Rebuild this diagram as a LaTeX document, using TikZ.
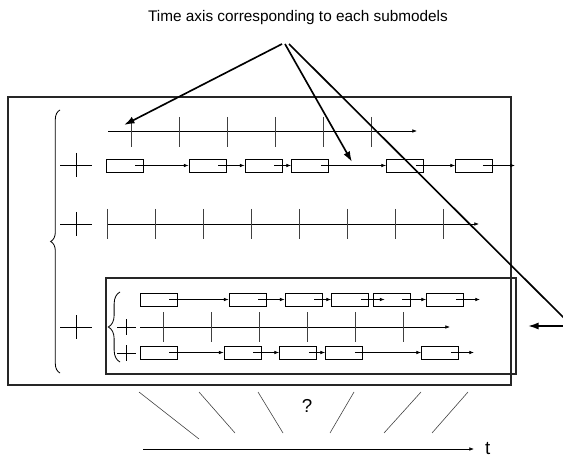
\documentclass[tikz,border=0pt]{standalone}
\usepackage{fontspec}
\setmainfont{Liberation Sans}
\usetikzlibrary{positioning, arrows.meta, calc, decorations.pathreplacing}

\begin{document}
\begin{tikzpicture}[x=0.03cm, y=-0.03cm, font=\fontsize{13.1}{15}\selectfont,
  blk/.style={draw, line width=0.8pt, minimum width=1.11cm, minimum height=0.39cm, inner sep=0pt},
  link/.style={-{Latex[length=4pt, width=3pt]}, line width=0.5pt},
  tickline/.style={line width=0.5pt, draw=black!75},
  pointer/.style={-{Latex[length=9pt, width=6pt]}, line width=1.4pt},
  boxframe/.style={line width=0.9pt, draw=black!85},
  plusline/.style={line width=0.8pt},
  bigfont/.style={font=\fontsize{16}{18}\selectfont}]
  \clip (0,0) rectangle (563,459);

  % title and pointers
  \node (title) at (298,18) {Time axis corresponding to each submodels};
  \coordinate (hub) at (285,44);
  \coordinate (t1) at (124,125);
  \coordinate (t2) at (352,162);
  \coordinate (bend) at (572,326);
  \coordinate (t3) at (528,326);

  % frames and braces
  \draw[boxframe] (8,97) rectangle (511,385);
  \draw[boxframe] (106,278) rectangle (516,374);
  \draw[line width=0.7pt, decorate, decoration={brace, amplitude=8pt}] (60,373) -- (60,110);
  \draw[line width=0.7pt, decorate, decoration={brace, amplitude=10pt}] (120,362) -- (120,292);

  % plus signs
  \foreach \y in {165,224,327}
    \draw[plusline] (60,\y) -- (92,\y) (76,\y-12) -- (76,\y+12);
  \foreach \y in {327,353}
    \draw[plusline] (117,\y) -- (136,\y) (126,\y-8) -- (126,\y+8);

  % time axes
  \draw[link] (108,131) -- (417,131);
  \foreach \x in {131,179,...,371}
    \draw[tickline] (\x,117) -- (\x,147);
  \draw[link] (107,224) -- (479,224);
  \foreach \x in {107,155,...,443}
    \draw[tickline] (\x,209) -- (\x,239);
  \draw[link] (140,327) -- (450,327);
  \foreach \x in {163,211,...,403}
    \draw[tickline] (\x,312) -- (\x,342);

  % submodel blocks, main row
  \foreach \x [count=\i] in {124.5,207.5,263.5,310,405,474}
    \node[blk] (m\i) at (\x,165.5) {};
  \foreach \i [evaluate=\i as \j using int(\i+1)] in {1,...,5}
    \draw[link] ($(m\i.east)+(-8,0)$) -- (m\j);
  \coordinate (mend) at (515,165.5);
  \draw[link] ($(m6.east)+(-10,0)$) -- (mend);

  % nested submodel, upper row
  \foreach \x [count=\i] in {158.5,247.5,303.5,350,391.5,445}
    \node[blk] (sa\i) at (\x,299.5) {};
  \foreach \i [evaluate=\i as \j using int(\i+1)] in {1,2,3,5}
    \draw[link] ($(sa\i.east)+(-8,0)$) -- (sa\j);
  \draw[link] ($(sa4.east)+(-8,0)$) -- ($(sa5.west)+(12,0)$);
  \coordinate (saend) at (480,299.5);
  \draw[link] ($(sa6.east)+(-8,0)$) -- (saend);

  % nested submodel, lower row
  \foreach \x [count=\i] in {158.5,242.5,298,344,440}
    \node[blk] (sc\i) at (\x,352.5) {};
  \foreach \i [evaluate=\i as \j using int(\i+1)] in {1,...,4}
    \draw[link] ($(sc\i.east)+(-8,0)$) -- (sc\j);
  \coordinate (scend) at (474,352.5);
  \draw[link] ($(sc5.east)+(-8,0)$) -- (scend);

  % pointers from the title
  \draw[pointer] ($(hub)+(-3,0)$) -- (t1);
  \draw[pointer] (hub) -- (t2);
  \draw[pointer] ($(hub)+(4,0)$) -- (bend) -- (t3);

  % merging onto the global time axis
  \foreach \a/\b/\c/\d in {139/392/199/439, 199/392/235/433, 258/392/283/433,
                           354/392/330/433, 421/392/384/433, 468/392/432/433}
    \draw[tickline] (\a,\b) -- (\c,\d);
  \node[bigfont] (qmark) at (307,406) {?};
  \coordinate (t0) at (143,449);
  \coordinate (tend) at (474,449);
  \draw[link] (t0) -- (tend);
  \node[bigfont, inner sep=0pt, anchor=base west] (tlabel) at ($(tend)+(11,5)$) {t};
\end{tikzpicture}
\end{document}
